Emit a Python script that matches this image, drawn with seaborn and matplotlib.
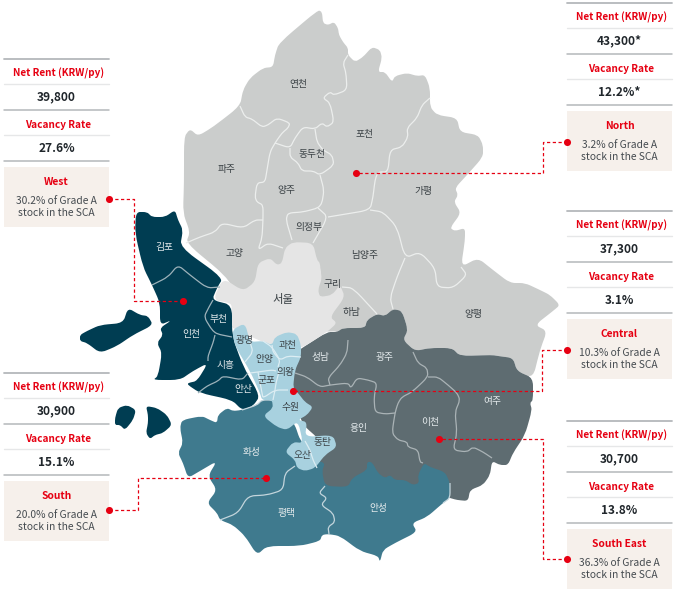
import matplotlib
matplotlib.use("Agg")
import matplotlib.pyplot as plt
from matplotlib.path import Path
from matplotlib.patches import PathPatch
import seaborn as sns

sns.set_theme(style="white")
plt.rcParams['font.family'] = ['Noto Sans CJK KR', 'DejaVu Sans']

# map outlines, in reference pixels
north_outline = [(184,137),(190,129),(198,136),(213,127),(240,106),(243,90),(250,78),(263,68),(273,67),(275,55),(279,43),
    (318,10),(322,12),(323,23),(328,25),(334,22),(338,28),(339,35),(343,42),(348,48),(348,55),(355,62),(363,57),(372,47),
    (380,50),(382,58),(378,72),(385,72),(392,82),(395,76),(407,73),(417,76),(425,75),(430,88),(430,107),(437,115),(457,118),
    (460,132),(478,135),(483,145),(483,157),(467,175),(455,188),(458,195),(454,202),(461,213),(450,228),(455,231),(465,228),
    (465,240),(461,267),(478,258),(493,270),(510,283),(525,283),(540,290),(550,295),(560,305),(553,311),(535,325),(547,331),
    (540,350),(533,378),(517,371),(513,358),(498,356),(492,355),(460,356),(452,348),(430,348),(415,351),(403,340),(408,330),
    (402,311),(393,309),(385,316),(377,314),(367,320),(365,328),(343,328),(337,332),(300,330),(240,300),(226,276),(186,243),
    (190,232),(183,213),(184,183)]
seoul_outline = [(223,278),(243,291),(255,282),(258,263),(270,258),(277,265),(282,263),(285,248),(293,242),(313,243),(317,260),
    (320,263),(322,280),(340,285),(345,297),(330,317),(337,323),(327,332),(302,348),(297,345),(270,345),(247,335),(232,328),
    (230,322),(232,307),(230,303),(213,300)]
guri_outline = [(320,263),(332,263),(333,276),(340,285),(332,295),(320,297),(318,290),(322,278)]
west_outline = [(136,212),(147,212),(152,217),(165,217),(175,210),(178,220),(183,230),(180,247),(223,278),(217,288),(212,300),
    (232,305),(232,336),(243,366),(260,396),(253,406),(242,410),(232,400),(200,393),(188,385),(188,383),(197,381),(208,363),
    (193,371),(180,380),(153,380),(158,376),(162,353),(157,343),(163,335),(160,328),(172,320),(160,325),(160,303),(152,285),
    (143,267),(135,233)]
island_big = [(80,335),(87,331),(100,325),(123,323),(128,308),(140,315),(148,316),(153,325),(133,335),(117,346),(100,353),(87,343),(80,341)]
island_a = [(115,418),(118,408),(127,405),(136,410),(133,420),(125,430),(120,425),(115,425)]
island_b = [(146,406),(157,408),(167,415),(172,425),(163,433),(155,435),(150,439),(146,433),(148,423),(148,415)]
central_outline = [(302,348),(327,332),(337,332),(343,328),(365,328),(367,320),(377,314),(385,316),(393,309),(402,311),(408,330),
    (403,340),(415,351),(430,348),(452,348),(460,356),(492,355),(498,356),(513,358),(517,371),(533,378),(533,400),(530,403),
    (532,410),(525,435),(513,453),(508,465),(500,465),(492,461),(490,475),(483,485),(470,490),(468,501),(457,500),(450,498),
    (440,495),(340,495),(320,490),(320,440),(303,425),(298,410),(285,385),(285,360)]
south_outline = [(272,400),(262,400),(257,405),(242,410),(233,411),(227,408),(218,415),(217,423),(210,420),(202,416),(182,420),
    (180,428),(183,443),(178,453),(183,463),(188,478),(200,471),(217,461),(208,476),(217,490),(207,503),(217,513),(220,520),
    (233,525),(245,536),(257,555),(267,546),(300,546),(320,541),(322,535),(328,534),(340,536),(360,551),(378,556),(380,562),(383,550),
    (395,543),(417,532),(412,523),(427,517),(443,503),(450,498),(450,483),(445,472),(430,467),(424,463),(418,475),(419,483),(413,485),
    (405,480),(395,480),(390,475),(385,478),(378,473),(372,462),(367,462),(367,470),(352,478),(348,487),(325,486),(322,471),(325,463),
    (315,460),(300,440),(295,425),(285,410)]
blue_outline = [(232,330),(245,323),(250,342),(263,341),(272,345),(275,337),(287,332),(297,334),(301,345),(301,357),(295,370),
    (293,388),(298,393),(305,402),(313,407),(307,415),(298,420),(307,422),(305,437),(333,435),(337,447),(325,455),(315,468),
    (305,471),(297,468),(295,460),(285,452),(293,442),(303,443),(298,421),(287,430),(277,427),(263,416),(273,408),(272,400),
    (262,400),(260,393),(250,371),(235,346)]

# city borders
north_borders = [
    [(240,106),(245,117),(252,119),(262,127),(268,125),(277,118),(290,123),(288,128),(282,133),(275,143),(270,152),(267,170),
     (265,182),(257,183),(255,197),(257,202),(263,205),(263,220),(262,238),(258,250),(268,243),(283,248)],
    [(186,243),(200,237),(215,232),(222,223),(243,228),(255,220),(263,220)],
    [(275,143),(290,148),(295,138),(303,127),(315,129),(322,123),(327,127),(334,122),(330,103),(323,98),(330,92),(334,95),
     (347,90),(346,73),(343,63),(348,55)],
    [(315,129),(317,142),(323,150),(332,155),(334,165),(320,175),(313,171),(302,171),(298,163),(290,157),(290,148)],
    [(320,175),(324,190),(322,203),(318,208),(303,212),(288,213),(286,220),(292,240)],
    [(318,208),(328,217),(313,243)],
    [(328,217),(340,215),(370,210),(373,197),(375,180),(378,172),(388,172),(390,150),(402,147),(408,137),(407,128),(417,118),
     (422,105),(430,98)],
    [(370,210),(383,212),(397,227),(405,258),(420,252),(435,268),(437,287),(453,288),(467,275),(461,267)],
    [(405,258),(397,277),(390,298),(393,309)],
    [(342,287),(353,288),(377,314)],
]
west_borders = [
    [(152,285),(168,277),(178,265),(190,275),(207,288),(220,287)],
    [(213,300),(209,307),(204,317),(212,330),(217,334),(232,337)],
    [(215,335),(213,343),(208,356),(208,361)],
    [(198,393),(207,386),(218,381),(223,376),(242,380),(248,373)],
]
blue_borders = [
    [(250,342),(253,352),(245,362)],
    [(263,341),(272,347),(280,360),(278,367)],
    [(272,345),(273,352),(280,360),(288,356),(301,357)],
    [(250,373),(258,372),(272,370),(276,371)],
    [(280,368),(276,383),(275,390)],
    [(258,372),(262,393),(263,398),(275,390),(288,390)],
    [(275,390),(273,400)],
    [(305,441),(310,450),(313,460),(317,468)],
]
central_borders = [
    [(295,373),(307,377),(320,387),(330,385),(348,383),(351,388),(357,378),(368,380),(377,383),(374,397),(375,412),(385,414),(395,413)],
    [(348,340),(347,353),(340,365),(328,378),(330,385)],
    [(413,352),(418,363),(427,368),(428,377),(412,392),(402,397),(398,403),(395,413),(392,433),(398,440),(407,442),(408,447),
     (418,450),(420,462),(423,463)],
    [(428,377),(438,377),(448,385),(457,393),(460,400),(455,412),(457,433),(453,450),(467,452),(473,447),(483,452),(492,458)],
]
south_borders = [
    [(295,466),(285,473),(283,490),(267,495),(248,496),(238,513),(220,520)],
    [(325,486),(319,493),(327,498),(321,505),(333,513),(335,522),(328,527),(329,534)],
    [(242,410),(257,405),(262,400),(272,400)],
    [(450,483),(450,498),(443,503)],
]

# city names
light_cities = ["연천","포천","동두천","파주","양주","가평","의정부","고양","남양주","구리","서울","하남","양평",
                "광명","안양","과천","의왕","군포","수원","동탄","오산"]
light_x = [298,365,312,227,286,423,309,235,365,332,283,352,473,245,264,288,285,266,290,323,303]
light_y = [84,134,154,169,190,191,227,253,255,284,300,312,314,340,359,345,372,380,407,442,455]
dark_cities = ["김포","인천","부천","시흥","안산","화성","평택","안성","성남","광주","용인","이천","여주"]
dark_x = [164,191,218,226,243,252,286,378,321,385,358,430,492]
dark_y = [247,334,319,365,389,452,513,508,357,357,428,422,401]

# panels
panel_names = ["West","North","Central","South","South East"]
panel_rents = ["39,800","43,300*","37,300","30,900","30,700"]
panel_vacancy = ["27.6%","12.2%*","3.1%","15.1%","13.8%"]
panel_shares = ["30.2%","3.2%","10.3%","20.0%","36.3%"]
panel_left = [4,567,567,4,567]
panel_top = [59,3,211,373,421]

# leader lines
leader_x = [[109,134,134,183],[567,543,543,356],[567,542,542,293],[109,138,138,266],[567,543,543,439]]
leader_y = [[199,199,301,301],[142,142,173,173],[350,350,391,391],[510,510,478,478],[559,559,439,439]]

GRAY = "#cbcdcc"
RED = "#e60012"

fig, ax = plt.subplots(figsize=(6.8, 5.93), dpi=100)
ax.set_position([0, 0, 1, 1])


def rounded_path(points, closed, f=0.35):
    # round the corners so the outlines do not look cut out with scissors
    verts, codes = [], []
    n = len(points)
    for i, p in enumerate(points):
        if not closed and i in (0, n - 1):
            verts.append(p)
            codes.append(Path.MOVETO if i == 0 else Path.LINETO)
            continue
        prev, nxt = points[i - 1], points[(i + 1) % n]
        a = (p[0] + (prev[0] - p[0]) * f, p[1] + (prev[1] - p[1]) * f)
        b = (p[0] + (nxt[0] - p[0]) * f, p[1] + (nxt[1] - p[1]) * f)
        verts += [a, p, b]
        codes += [Path.MOVETO if (i == 0 and closed) else Path.LINETO, Path.CURVE3, Path.CURVE3]
    if closed:
        verts.append(verts[0])
        codes.append(Path.CLOSEPOLY)
    return Path(verts, codes)


def fill_shape(points, color, zorder):
    ax.add_patch(PathPatch(rounded_path(points, True), facecolor=color, edgecolor="none", lw=0, zorder=zorder))


def draw_borders(lines, color, zorder, lw=0.9):
    for line in lines:
        ax.add_patch(PathPatch(rounded_path(line, False), facecolor="none", edgecolor=color, lw=lw, zorder=zorder))


fill_shape(north_outline, GRAY, 1)
draw_borders(north_borders, "#eceeed", 1.5)
fill_shape(central_outline, "#5e6c71", 2)
draw_borders(central_borders, "#aab3b6", 2.5)
fill_shape(seoul_outline, "#e5e5e5", 3)
fill_shape(guri_outline, GRAY, 3.2)
for shape in [west_outline, island_big, island_a, island_b]:
    fill_shape(shape, "#003d52", 4)
draw_borders(west_borders, "#9db2ba", 4.5)
fill_shape(south_outline, "#3f7a8e", 5)
draw_borders(south_borders, "#c3d5dc", 5.5)
fill_shape(blue_outline, "#a8d1df", 6)
draw_borders(blue_borders, "#dcedf3", 6.5)

for name, x, y in zip(light_cities, light_x, light_y):
    size = 8.2 if name == "서울" else 7
    ax.text(x, y, name, ha="center", va="center", fontsize=size, color="#3a4145", zorder=8)
for name, x, y in zip(dark_cities, dark_x, dark_y):
    ax.text(x, y, name, ha="center", va="center", fontsize=7, color="#e4eaec", zorder=8)

# panels
for name, rent, vac, share, left, top in zip(panel_names, panel_rents, panel_vacancy, panel_shares, panel_left, panel_top):
    mid = left + 52.5
    right = left + 105
    ax.fill([left, right, right, left], [top+108, top+108, top+168, top+168], color="#f6f0eb", lw=0, zorder=1)
    for off, col, lw in [(0, "#b4b8bb", 1.3), (24.5, "#e6e7e8", 1), (51, "#b4b8bb", 1.1), (76, "#e6e7e8", 1), (102, "#b4b8bb", 1.1)]:
        ax.plot([left, right], [top+off, top+off], color=col, lw=lw, zorder=1)
    ax.text(mid+2, top+14, "Net Rent (KRW/py)", ha="center", va="center", fontsize=7.15, color=RED, fontweight="bold")
    ax.text(mid, top+38, rent, ha="center", va="center", fontsize=8.6, color="#20262b", fontweight="bold")
    ax.text(mid+2, top+65.5, "Vacancy Rate", ha="center", va="center", fontsize=7.2, color=RED, fontweight="bold")
    ax.text(mid, top+90, vac, ha="center", va="center", fontsize=8.6, color="#20262b", fontweight="bold")
    ax.text(mid, top+123, name, ha="center", va="center", fontsize=7.4, color=RED, fontweight="bold")
    ax.text(mid, top+142, share + " of Grade A", ha="center", va="center", fontsize=7.4, color="#454b50")
    ax.text(mid, top+154.5, "stock in the SCA", ha="center", va="center", fontsize=7.4, color="#454b50")

# leader lines and dots
for xs, ys in zip(leader_x, leader_y):
    ax.plot(xs, ys, color=RED, lw=0.9, ls=(0, (2.6, 2)), zorder=9)
    sns.scatterplot(x=[xs[0], xs[-1]], y=[ys[0], ys[-1]], color=RED, s=26, linewidth=0, zorder=10, ax=ax, legend=False)

ax.set_xlim(0, 680)
ax.set_ylim(593, 0)
ax.axis("off")

plt.savefig("out.png", dpi=100)
